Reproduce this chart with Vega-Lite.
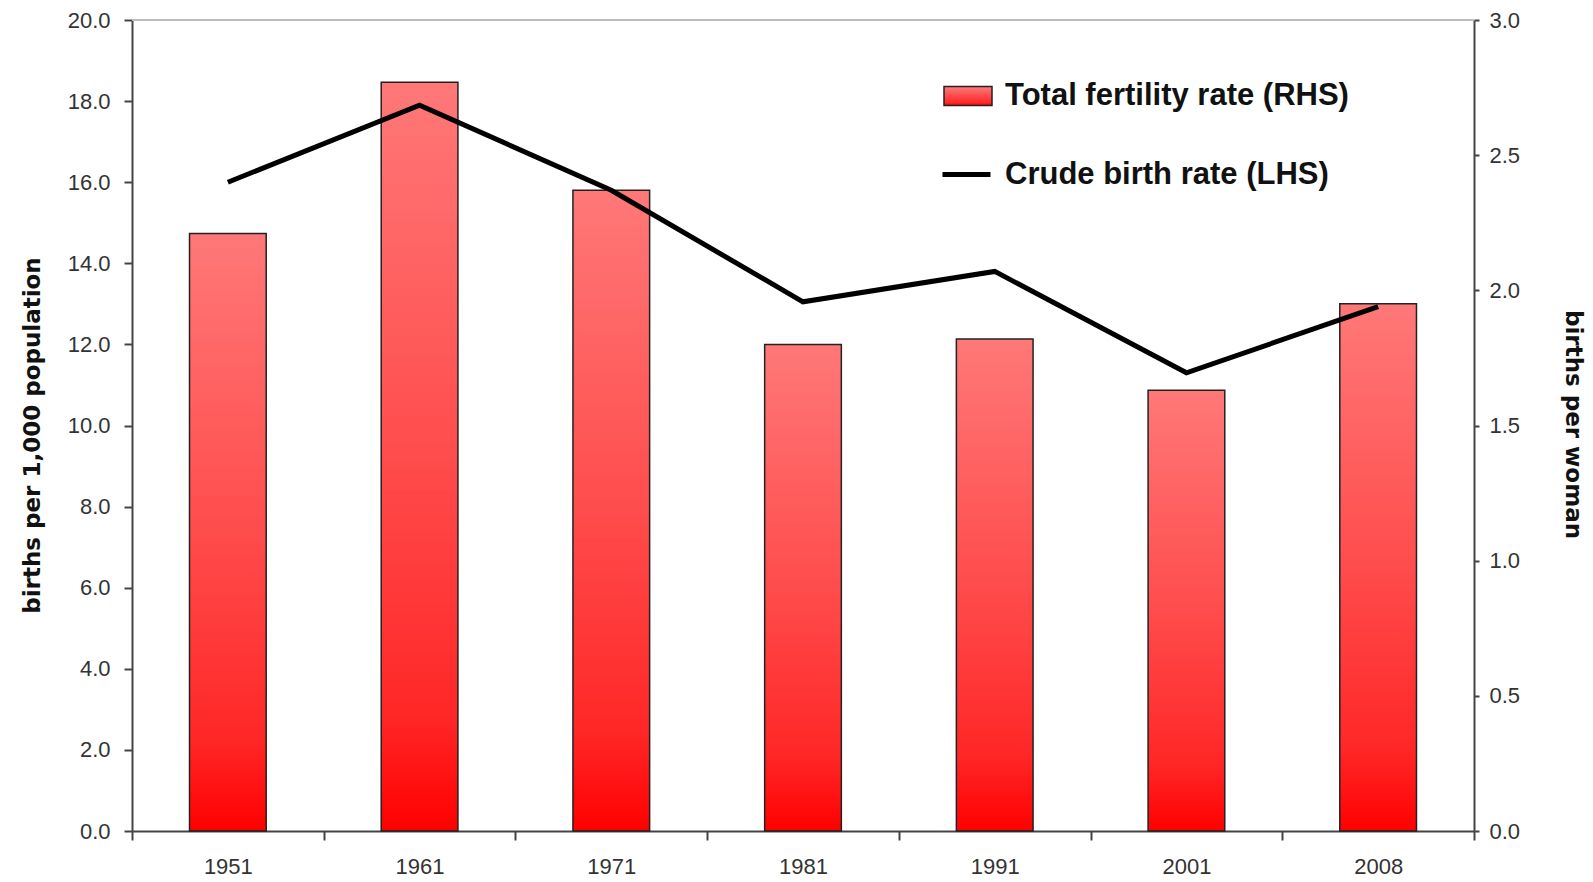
{
  "$schema": "https://vega.github.io/schema/vega-lite/v6.json",
  "width": 1342,
  "height": 811,
  "autosize": {"type": "none"},
  "padding": {"left": 132, "top": 20, "right": 119, "bottom": 51},
  "background": "white",
  "config": {
    "view": {"stroke": null},
    "font": "Liberation Sans",
    "axisX": {
      "title": null,
      "grid": false,
      "labelAngle": 0,
      "tickBand": "extent",
      "tickSize": 9,
      "tickWidth": 2,
      "tickColor": "#444",
      "domainColor": "#444",
      "domainWidth": 2,
      "labelPadding": 16,
      "labelFontSize": 22,
      "labelColor": "#333"
    },
    "legend": {
      "orient": "none",
      "padding": 0,
      "labelFont": "Liberation Sans",
      "labelFontSize": 31,
      "labelFontWeight": "bold",
      "labelColor": "#111",
      "labelOffset": 12,
      "labelLimit": 600
    }
  },
  "data": {
    "values": [
      {"year": "1951", "tfr": 2.21, "cbr": 16.0},
      {"year": "1961", "tfr": 2.77, "cbr": 17.9},
      {"year": "1971", "tfr": 2.37, "cbr": 15.8},
      {"year": "1981", "tfr": 1.80, "cbr": 13.05},
      {"year": "1991", "tfr": 1.82, "cbr": 13.8},
      {"year": "2001", "tfr": 1.63, "cbr": 11.3},
      {"year": "2008", "tfr": 1.95, "cbr": 12.93}
    ]
  },
  "layer": [
    {
      "mark": {
        "type": "bar",
        "width": {"band": 0.4},
        "strokeWidth": 1.5,
        "fill": {
          "gradient": "linear",
          "x1": 0, "y1": 0, "x2": 0, "y2": 1,
          "stops": [
            {"offset": 0, "color": "#ff7878"},
            {"offset": 0.5, "color": "#ff4c4c"},
            {"offset": 0.85, "color": "#ff2626"},
            {"offset": 1, "color": "#ff0000"}
          ]
        }
      },
      "encoding": {
        "x": {
          "field": "year",
          "type": "ordinal",
          "scale": {"paddingInner": 0, "paddingOuter": 0}
        },
        "y": {
          "field": "tfr",
          "type": "quantitative",
          "scale": {"domain": [0, 3], "nice": false, "zero": true},
          "axis": {
            "orient": "right",
            "title": "births per woman",
            "values": [0, 0.5, 1, 1.5, 2, 2.5, 3],
            "format": ".1f",
            "grid": false,
            "tickSize": 5,
            "tickWidth": 2,
            "tickColor": "#444",
            "domainColor": "#444",
            "domainWidth": 2,
            "labelPadding": 10,
            "labelFontSize": 22,
            "labelColor": "#333",
            "titleFont": "DejaVu Sans",
            "titleFontSize": 23,
            "titleFontWeight": "bold",
            "titleColor": "#111",
            "titleAngle": 90,
            "titleBaseline": "middle",
            "titleX": 98,
            "titleY": 404
          }
        },
        "stroke": {
          "datum": "Total fertility rate (RHS)",
          "type": "nominal",
          "scale": {"range": ["#222222"]},
          "legend": {
            "title": null,
            "legendX": 811,
            "legendY": 51,
            "symbolType": "M-1,-0.4H1V0.4H-1Z",
            "symbolSize": 2304,
            "symbolStrokeWidth": 1.5,
            "symbolFillColor": "#ff5a5a",
            "encode": {
              "symbols": {
                "update": {
                  "fill": {"value": {
                    "gradient": "linear",
                    "x1": 0, "y1": 0, "x2": 0, "y2": 1,
                    "stops": [
                      {"offset": 0, "color": "#ff7676"},
                      {"offset": 1, "color": "#ff2a2a"}
                    ]
                  }}
                }
              }
            }
          }
        }
      }
    },
    {
      "layer": [
        {
          "mark": {"type": "rule", "color": "#bdbdbd", "strokeWidth": 1.5},
          "encoding": {"y": {"datum": 20}}
        },
        {
          "mark": {"type": "line", "strokeWidth": 5, "strokeJoin": "miter"},
          "encoding": {
            "x": {"field": "year", "type": "ordinal"},
            "y": {"field": "cbr", "type": "quantitative"},
            "stroke": {
              "datum": "Crude birth rate (LHS)",
              "type": "nominal",
              "scale": {"range": ["#000000"]},
              "legend": {
                "title": null,
                "legendX": 808,
                "legendY": 128,
                "symbolType": "stroke",
                "symbolSize": 2304,
                "symbolStrokeWidth": 5
              }
            }
          }
        }
      ],
      "encoding": {
        "y": {
          "type": "quantitative",
          "scale": {"domain": [0, 20], "nice": false},
          "axis": {
            "orient": "left",
            "title": "births per 1,000 population",
            "values": [0, 2, 4, 6, 8, 10, 12, 14, 16, 18, 20],
            "format": ".1f",
            "grid": false,
            "tickSize": 8,
            "tickWidth": 2,
            "tickColor": "#444",
            "domainColor": "#444",
            "domainWidth": 2,
            "labelPadding": 14,
            "labelFontSize": 22,
            "labelColor": "#333",
            "titleFont": "DejaVu Sans",
            "titleFontSize": 23,
            "titleFontWeight": "bold",
            "titleColor": "#111",
            "titleAngle": 270,
            "titleBaseline": "middle",
            "titleX": -100,
            "titleY": 415
          }
        }
      }
    }
  ],
  "resolve": {
    "scale": {"y": "independent", "stroke": "independent"},
    "axis": {"y": "independent"}
  }
}
